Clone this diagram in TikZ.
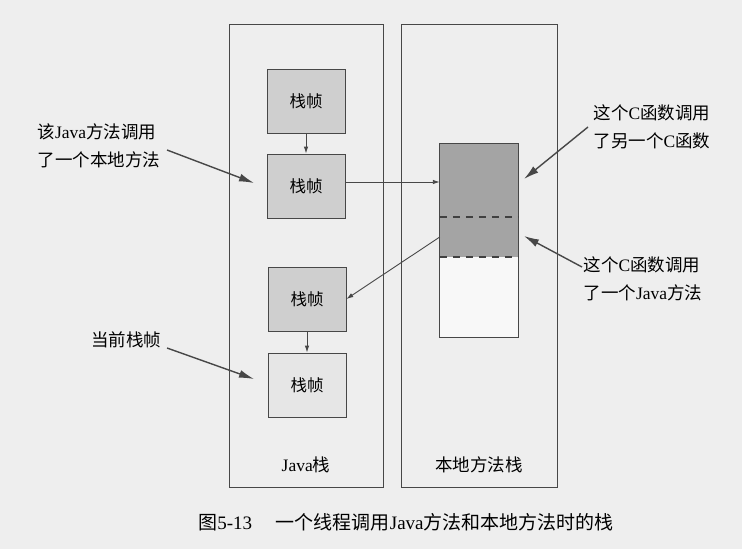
\documentclass[tikz,border=0pt]{standalone}
\usepackage{fontspec}
\setmainfont{Liberation Serif}
\newfontfamily\cjk{Noto Sans CJK SC}
\usepackage{tikz}
\usetikzlibrary{arrows.meta,calc}

\definecolor{paper}{HTML}{EEEEEE}
\definecolor{framegray}{HTML}{CFCFCF}
\definecolor{framelight}{HTML}{E6E6E6}
\definecolor{cgray}{HTML}{A4A4A4}
\definecolor{cwhite}{HTML}{F8F8F8}
\definecolor{inkgray}{HTML}{474747}

\begin{document}
\begin{tikzpicture}[x=1pt,y=-1pt]
                \tikzstyle{every node}+=[font=\fontsize{17.5}{28}\selectfont, text=black]
                \tikzstyle{stackbox}=[draw=inkgray, line width=0.8pt, minimum width=154pt, minimum height=463pt, inner sep=0pt]
                \tikzstyle{framebox}=[draw=inkgray, line width=0.8pt, fill=framegray, minimum width=78pt, minimum height=64pt, inner sep=0pt, font=\fontsize{16.5}{20}\selectfont]
                \tikzstyle{cpart}=[minimum width=78pt, inner sep=0pt, draw=none]
                \tikzstyle{link}=[draw=inkgray, line width=0.9pt, -{Latex[length=7pt,width=4.5pt]}]
                \tikzstyle{callout}=[draw=inkgray, line width=1.4pt, -{Latex[length=15pt,width=8pt]}]
                \tikzstyle{cut}=[draw=black!75, line width=1.8pt, dash pattern=on 7pt off 6pt]
                \fill [paper] (0,0) rectangle (742,549);
                \useasboundingbox (0,0) rectangle (742,549);
                % the two stacks
                \node [stackbox] (jstack) at (306,256) {};
                \node [stackbox, minimum width=156pt] (nstack) at (479,256) {};
                \node (jlabel) at (306,465) {Java{\cjk 栈}};
                \node (nlabel) at (479,465) {\cjk 本地方法栈};
                % java frames
                \node [framebox] (frame1) at (306,101) {\cjk 栈帧};
                \node [framebox] (frame2) at (306,186) {\cjk 栈帧};
                \node [framebox] (frame3) at (307,299) {\cjk 栈帧};
                \node [framebox, fill=framelight] (frame4) at (307,385) {\cjk 栈帧};
                \draw [link] (frame1) -- (frame2);
                \draw [link] (frame3) -- (frame4);
                % native (C) frames
                \node [cpart, fill=cgray, minimum height=73pt] (natA) at (479,180.5) {};
                \node [cpart, fill=cgray, minimum height=40pt] (natB) at (479,237) {};
                \node [cpart, fill=cwhite, minimum height=80pt] (natC) at (479,297) {};
                \draw [inkgray, line width=0.8pt] (natA.north west) rectangle (natC.south east);
                \draw [cut] (natA.south west) -- (natA.south east);
                \draw [cut] (natB.south west) -- (natB.south east);
                \coordinate (outA) at ([yshift=4pt]frame2.east);
                \draw [link] (outA) -- (natA.west |- outA);
                \draw [link] (natB.west) -- (frame3.east);
                % notes
                \node [anchor=west, align=left] (noteA) at (34,146) {{\cjk 该}Java{\cjk 方法调用}\\{\cjk 了一个本地方法}};
                \node (noteB) at (126,340) {\cjk 当前栈帧};
                \node [anchor=west, align=left] (noteC) at (590,127) {{\cjk 这个}C{\cjk 函数调用}\\{\cjk 了另一个}C{\cjk 函数}};
                \node [anchor=west, align=left] (noteD) at (580,279) {{\cjk 这个}C{\cjk 函数调用}\\{\cjk 了一个}Java{\cjk 方法}};
                \coordinate (tailA) at (167,150);
                \coordinate (tailB) at (167,348);
                \coordinate (tailC) at (588,127);
                \coordinate (tailD) at (582,267);
                \coordinate (tipA) at (254,183);
                \coordinate (tipB) at (254,379);
                \coordinate (tipC) at (524,179);
                \coordinate (tipD) at (524,236);
                \draw [callout] (tailA) -- (tipA);
                \draw [callout] (tailB) -- (tipB);
                \draw [callout] (tailC) -- (tipC);
                \draw [callout] (tailD) -- (tipD);
                % caption
                \node [font=\fontsize{19}{22}\selectfont] (caption) at (406,522) {{\cjk 图}5-13\quad\ {\cjk 一个线程调用}Java{\cjk 方法和本地方法时的栈}};
\end{tikzpicture}
\end{document}
